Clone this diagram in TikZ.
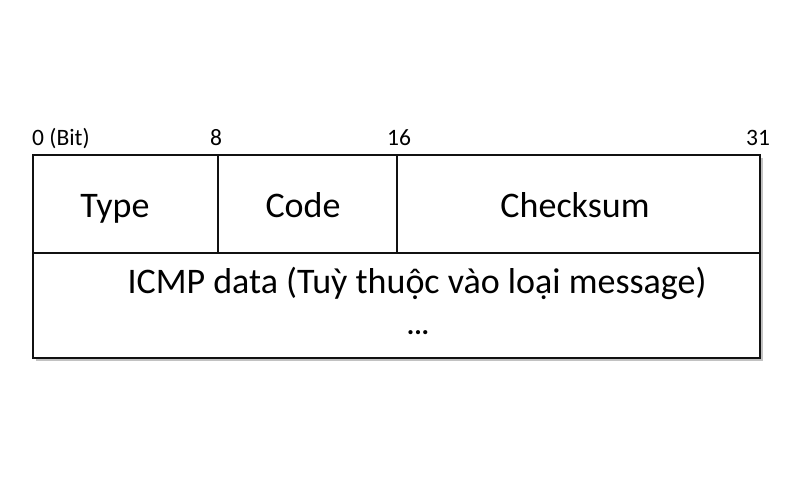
\documentclass[tikz,border=0pt]{standalone}
\usepackage{fontspec}
\setmainfont{Carlito}
\usetikzlibrary{positioning,calc}
\definecolor{frameline}{HTML}{111111}
\definecolor{shadowgray}{HTML}{9A9A9A}
\tikzset{
  framebox/.style={draw=frameline, line width=2.4pt},
  fieldtext/.style={inner sep=0pt, anchor=base, text=black, font=\fontsize{36}{40}\selectfont},
  bittext/.style={inner sep=0pt, anchor=base, text=black, font=\fontsize{23.5}{26}\selectfont}}
\begin{document}
\begin{tikzpicture}[x=1pt, y=-1pt]
  \useasboundingbox (0,0) rectangle (800,500);
  % corners of the header frame
  \coordinate (tl) at (33,155);
  \coordinate (br) at (760,358);
  \coordinate (ml) at (33,253);
  \coordinate (mr) at (760,253);
  \coordinate (c8t) at (218,155);
  \coordinate (c8b) at (218,253);
  \coordinate (c16t) at (397,155);
  \coordinate (c16b) at (397,253);
  % soft shadow, then frame
  \fill[shadowgray!60] ($(tl)+(3,3)$) rectangle ($(br)+(3,3)$);
  \fill[white] (tl) rectangle (br);
  \draw[framebox] (tl) rectangle (br);
  \draw[framebox] (ml) -- (mr);
  \draw[framebox] (c8t) -- (c8b);
  \draw[framebox] (c16t) -- (c16b);
  % bit offsets
  \node[bittext, anchor=base west] (bit0) at (32,146) {0 (Bit)};
  \node[bittext] (bit8) at (216,146) {8};
  \node[bittext] (bit16) at (399,146) {16};
  \node[bittext] (bit31) at (758,146) {31};
  % fields
  \node[fieldtext] (type) at (115,217) {Type};
  \node[fieldtext] (code) at (303,217) {Code};
  \node[fieldtext] (checksum) at (575,217) {Checksum};
  \node[fieldtext] (data) at (417,293) {ICMP data (Tuỳ thuộc vào loại message)};
  \node[fieldtext, font=\fontsize{28}{30}\selectfont\bfseries] (dots) at (418,334) {...};
\end{tikzpicture}
\end{document}
